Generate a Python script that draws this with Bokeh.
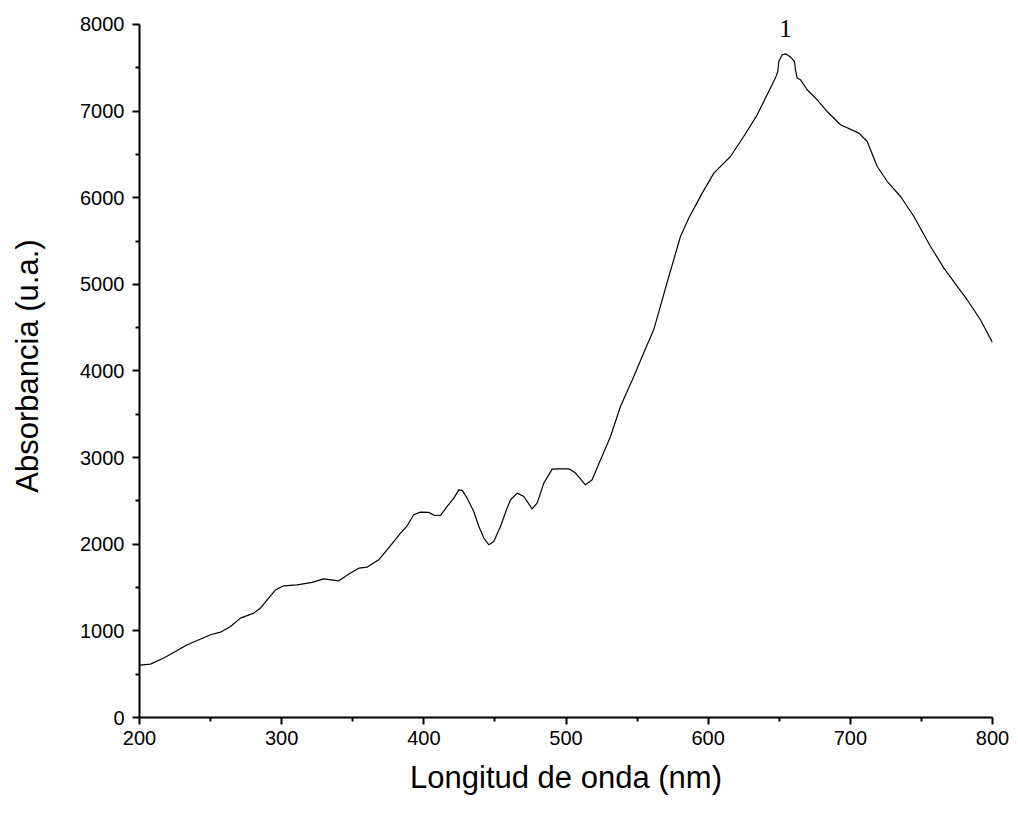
from bokeh.plotting import figure
from bokeh.models import Range1d, Label, FixedTicker
from bokeh.embed import file_html
from bokeh.resources import INLINE

wavelength = [200, 207.7, 217.1, 233.6, 250, 257, 264, 271, 280.4, 285.1, 289.8, 295.7,
              301.5, 310.9, 321.5, 329.6, 340.2, 348.4, 354.3, 360.2, 368.3, 377,
              383.6, 388.3, 392.9, 397.6, 403.5, 407, 411.7, 416.4, 421.1, 424.6, 427,
              430.5, 435.1, 438.7, 442.2, 445.7, 449.2, 453.9, 458.6, 461, 465.7,
              470.3, 476.2, 479.7, 484.4, 490.3, 494.9, 502, 506.7, 513.7, 518.4,
              523.8, 531.3, 538.3, 547.7, 557.1, 561.7, 571, 580.5, 586.4, 595.8,
              604, 615.7, 625, 634.5, 642.6, 647.3, 649, 649.7, 652, 654.4, 657.9,
              660.7, 661.4, 662.6, 665, 669.6, 676.7, 683.7, 693.1, 706, 711.9,
              718.9, 726, 735.3, 744.7, 756.4, 765.8, 782.2, 791.5, 800]
absorbance = [605, 616, 686, 839, 955, 985, 1051, 1147, 1205, 1263, 1359, 1474,
              1520, 1532, 1559, 1601, 1578, 1667, 1724, 1736, 1820, 1993,
              2128, 2213, 2340, 2371, 2367, 2336, 2332, 2436, 2532, 2628, 2621,
              2532, 2378, 2205, 2071, 1994, 2032, 2205, 2417, 2513, 2590,
              2551, 2409, 2475, 2706, 2867, 2871, 2871, 2821, 2686, 2744,
              2955, 3244, 3590, 3936, 4302, 4475, 5014, 5552, 5765, 6053,
              6284, 6476, 6707, 6957, 7226, 7381, 7457, 7573, 7650, 7661, 7623,
              7573, 7477, 7381, 7361, 7246, 7130, 6995, 6842, 6746, 6649,
              6360, 6187, 6014, 5783, 5437, 5188, 4822, 4591, 4330]

x_ticks = [200, 300, 400, 500, 600, 700, 800]
x_minor = [250, 350, 450, 550, 650, 750]
y_ticks = [0, 1000, 2000, 3000, 4000, 5000, 6000, 7000, 8000]
y_minor = [500, 1500, 2500, 3500, 4500, 5500, 6500, 7500]
peak_label = "1"
peak_x = 654.4
peak_y = 7956

# frame extends a little above 8000 so the peak label is not clipped;
# the y axis itself is bounded to 0..8000
p = figure(width=1018, height=819, output_backend="svg", toolbar_location=None,
           x_range=Range1d(200, 800), y_range=Range1d(0, 8115),
           min_border_left=139, min_border_right=26, min_border_top=14, min_border_bottom=102)
p.outline_line_color = None
p.grid.visible = False
p.background_fill_color = "white"
p.border_fill_color = "white"

p.line(wavelength, absorbance, line_color="black", line_width=1.2, line_join="round")

for ax in (p.xaxis[0], p.yaxis[0]):
    ax.axis_line_width = 2
    ax.axis_line_color = "black"
    ax.major_tick_line_width = 2
    ax.minor_tick_line_width = 2
    ax.major_tick_out = 7
    ax.major_tick_in = 0
    ax.minor_tick_out = 4
    ax.minor_tick_in = 0
    ax.major_label_text_font = "Liberation Sans"
    ax.major_label_text_font_size = "20px"
    ax.major_label_text_color = "black"
    ax.axis_label_text_font = "Liberation Sans"
    ax.axis_label_text_font_size = "31px"
    ax.axis_label_text_font_style = "normal"
    ax.axis_label_text_color = "black"

p.xaxis[0].ticker = FixedTicker(ticks=x_ticks, minor_ticks=x_minor)
p.yaxis[0].ticker = FixedTicker(ticks=y_ticks, minor_ticks=y_minor)
p.yaxis[0].bounds = (0, 8000)
p.xaxis.axis_label = "Longitud de onda (nm)"
p.yaxis.axis_label = "Absorbancia (u.a.)"
p.xaxis.major_label_standoff = 6
p.yaxis.major_label_standoff = 8
p.xaxis.axis_label_standoff = 12
p.yaxis.axis_label_standoff = 32

p.add_layout(Label(x=peak_x, y=peak_y, text=peak_label, text_align="center",
                   text_baseline="middle", text_font="Liberation Serif",
                   text_font_size="25px", text_color="black"))

open("out.html", "w").write(file_html(p, INLINE))
